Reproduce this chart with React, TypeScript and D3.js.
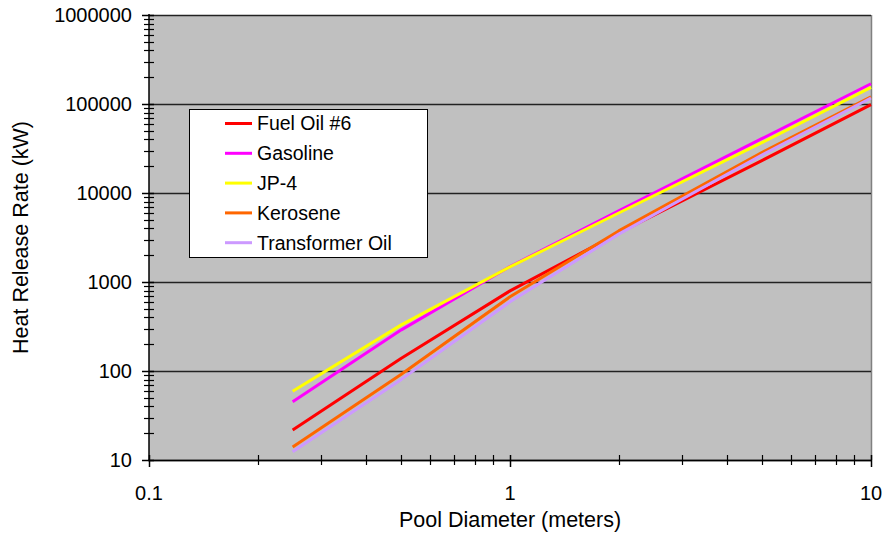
import React from "react";
import * as d3 from "d3";

// Pool diameters (m) at which heat release rates are tabulated
const diameters = [0.25, 0.5, 1, 2, 5, 10];

// Heat release rate (kW) per fuel, one value per diameter
const fuelOil6 = [21.7, 139, 795, 3550, 23300, 98200];
const gasoline = [45.2, 290, 1490, 6300, 41000, 169000];
const jp4 = [59.1, 330, 1480, 5960, 37000, 153600];
const kerosene = [14.0, 92, 682, 3750, 28600, 120000];
const transformerOil = [12.4, 80.5, 599, 3450, 26900, 116800];

const seriesNames = ["Fuel Oil #6", "Gasoline", "JP-4", "Kerosene", "Transformer Oil"];
const seriesValues = [fuelOil6, gasoline, jp4, kerosene, transformerOil];
const seriesColors = ["#FF0000", "#FF00FF", "#FFFF00", "#FF6600", "#CC99FF"];

const yTickValues = [10, 100, 1000, 10000, 100000, 1000000];
const yTickLabels = ["10", "100", "1000", "10000", "100000", "1000000"];
const xTickValues = [0.1, 1, 10];
const xTickLabels = ["0.1", "1", "10"];

const W = 886;
const H = 535;
const plot = { left: 149, right: 871, top: 15, bottom: 460 };
const FONT = "Liberation Sans, Arial, sans-serif";

export default function App() {
  const x = d3.scaleLog().domain([0.1, 10]).range([plot.left, plot.right]);
  const y = d3.scaleLog().domain([10, 1000000]).range([plot.bottom, plot.top]);

  const line = d3
    .line<[number, number]>()
    .x((d) => x(d[0]))
    .y((d) => y(d[1]));

  // minor ticks: 2..9 within each decade
  const xMinor: number[] = [];
  [0.1, 1].forEach((base) => {
    for (let k = 2; k <= 9; k++) xMinor.push(base * k);
  });
  const yMinor: number[] = [];
  [10, 100, 1000, 10000, 100000].forEach((base) => {
    for (let k = 2; k <= 9; k++) yMinor.push(base * k);
  });

  const legend = { x: 189, y: 109, w: 238, h: 148, row0: 123.5, rowStep: 29.8 };

  return (
    <svg
      width={W}
      height={H}
      style={{ position: "absolute", left: 0, top: 0, background: "#fff" }}
      fontFamily={FONT}
    >
      <rect x={0} y={0} width={W} height={H} fill="#fff" />
      {/* plot area */}
      <rect
        x={plot.left}
        y={plot.top}
        width={plot.right - plot.left}
        height={plot.bottom - plot.top}
        fill="#C0C0C0"
      />
      <line x1={plot.right + 0.5} x2={plot.right + 0.5} y1={plot.top} y2={plot.bottom} stroke="#808080" strokeWidth={1.5} />

      {/* horizontal gridlines at decades */}
      {yTickValues.map((v) => (
        <line
          key={"g" + v}
          x1={plot.left}
          x2={plot.right}
          y1={Math.round(y(v)) + 0.5}
          y2={Math.round(y(v)) + 0.5}
          stroke="#222"
          strokeWidth={1.5}
        />
      ))}

      {/* series */}
      {seriesValues.map((vals, i) => (
        <path
          key={seriesNames[i]}
          d={line(diameters.map((d, j) => [d, vals[j]] as [number, number])) || ""}
          fill="none"
          stroke={seriesColors[i]}
          strokeWidth={3}
          strokeLinejoin="round"
        />
      ))}

      {/* axes */}
      <line x1={plot.left} x2={plot.left} y1={plot.top - 1} y2={plot.bottom} stroke="#000" strokeWidth={1.5} />
      <line x1={plot.left - 1} x2={plot.right} y1={plot.bottom + 0.5} y2={plot.bottom + 0.5} stroke="#000" strokeWidth={1.5} />

      {/* y ticks */}
      {yTickValues.map((v) => (
        <line key={"yt" + v} x1={plot.left - 7} x2={plot.left + 5} y1={Math.round(y(v)) + 0.5} y2={Math.round(y(v)) + 0.5} stroke="#000" strokeWidth={1.5} />
      ))}
      {yMinor.map((v) => (
        <line key={"ym" + v} x1={plot.left - 5} x2={plot.left + 5} y1={Math.round(y(v)) + 0.5} y2={Math.round(y(v)) + 0.5} stroke="#000" strokeWidth={1.2} />
      ))}
      {yTickValues.map((v, i) => (
        <text key={"yl" + v} x={132} y={y(v)} dy="0.35em" textAnchor="end" fontSize={20} fill="#000">
          {yTickLabels[i]}
        </text>
      ))}

      {/* x ticks */}
      {xTickValues.map((v) => (
        <line key={"xt" + v} x1={Math.round(x(v)) + 0.5} x2={Math.round(x(v)) + 0.5} y1={plot.bottom - 5} y2={plot.bottom + 7} stroke="#000" strokeWidth={1.5} />
      ))}
      {xMinor.map((v) => (
        <line key={"xm" + v} x1={Math.round(x(v)) + 0.5} x2={Math.round(x(v)) + 0.5} y1={plot.bottom - 5} y2={plot.bottom + 5} stroke="#000" strokeWidth={1.2} />
      ))}
      {xTickValues.map((v, i) => (
        <text key={"xl" + v} x={x(v)} y={500} textAnchor="middle" fontSize={20} fill="#000">
          {xTickLabels[i]}
        </text>
      ))}

      {/* axis titles */}
      <text x={(plot.left + plot.right) / 2} y={527} textAnchor="middle" fontSize={21.5} fill="#000">
        Pool Diameter (meters)
      </text>
      <text
        transform={`translate(28, ${(plot.top + plot.bottom) / 2}) rotate(-90)`}
        textAnchor="middle"
        fontSize={21.5}
        fill="#000"
      >
        Heat Release Rate (kW)
      </text>

      {/* legend */}
      <rect x={legend.x + 0.5} y={legend.y + 0.5} width={legend.w} height={legend.h} fill="#fff" stroke="#000" strokeWidth={1} />
      {seriesNames.map((name, i) => {
        const cy = legend.row0 + i * legend.rowStep;
        return (
          <g key={"lg" + name}>
            <line x1={225} x2={252} y1={cy} y2={cy} stroke={seriesColors[i]} strokeWidth={3} />
            <text x={257} y={cy} dy="0.35em" fontSize={19.5} fill="#000">
              {name}
            </text>
          </g>
        );
      })}
    </svg>
  );
}
